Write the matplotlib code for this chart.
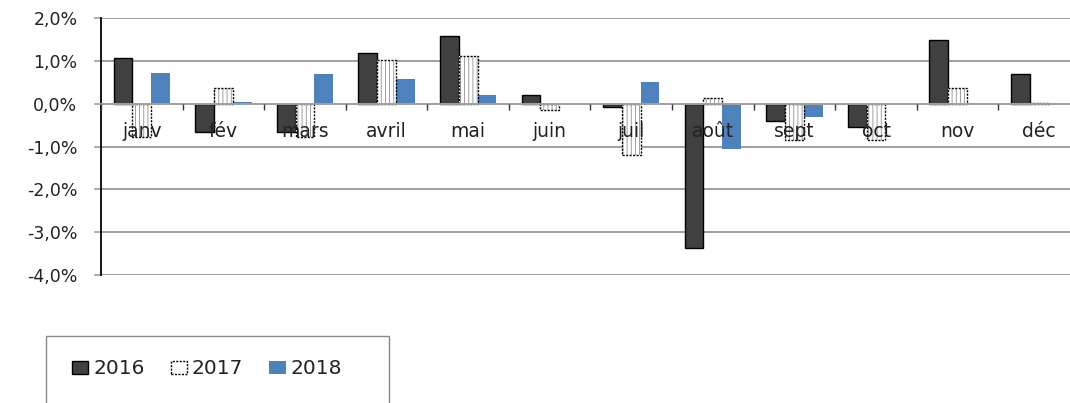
import numpy as np
import matplotlib
matplotlib.use('Agg')
import matplotlib.pyplot as plt
from matplotlib.ticker import FuncFormatter, FixedLocator
from matplotlib.patches import Rectangle

months = ['janv', 'fév', 'mars', 'avril', 'mai', 'juin', 'juil', 'août', 'sept', 'oct', 'nov', 'déc']
v2016 = [1.06, -0.67, -0.67, 1.19, 1.58, 0.21, -0.08, -3.36, -0.40, -0.54, 1.48, 0.69]
v2017 = [-0.78, 0.37, -0.78, 1.02, 1.12, -0.15, -1.21, 0.14, -0.84, -0.84, 0.37, 0.02]
v2018 = [0.72, 0.03, 0.69, 0.58, 0.21, 0.02, 0.50, -1.05, -0.32, 0.0, 0.0, 0.0]
years = ['2016', '2017', '2018']
yticks = [2, 1, 0, -1, -2, -3, -4]

plt.rcParams['font.family'] = ['DejaVu Sans']
plt.rcParams['hatch.linewidth'] = 0.6

fig = plt.figure(figsize=(10.70, 4.03), dpi=100)
ax = fig.add_axes([101/1070, 1-275/403, 979/1070, 257/403])

x = np.arange(len(months))
w = 0.23
grey_grid = '#a0a0a0'

# 2016
b16 = ax.bar(x - w, v2016, w, color='#404040', edgecolor='black', linewidth=1.0, zorder=2)
# 2017 : white, vertical hatching, dotted edge
ax.bar(x, v2017, w, color='white', edgecolor='#909090', hatch='||||', linewidth=0, zorder=2)
b17 = ax.bar(x, v2017, w, fill=False, edgecolor='black', linestyle=(0, (1.5, 1)), linewidth=1.0, zorder=2.1)
# 2018
b18 = ax.bar(x + w, v2018, w, color='#4f81bd', linewidth=0, zorder=2)

ax.set_xlim(-0.5, 11.5)
ax.set_ylim(-4, 2)

ax.yaxis.set_major_locator(FixedLocator(yticks))
ax.yaxis.set_major_formatter(FuncFormatter(lambda v, p: ('%.1f%%' % v).replace('.', ',')))
ax.yaxis.grid(True, color=grey_grid, linewidth=1.4)
ax.set_axisbelow(True)
ax.tick_params(axis='y', length=5, width=1.2, color=grey_grid, pad=12, labelsize=12.5, labelcolor='#222222')

ax.set_xticks(x)
ax.set_xticklabels(months)
ax.set_xticks(np.arange(len(months) + 1) - 0.5, minor=True)
ax.tick_params(axis='x', which='major', length=0, pad=13, labelsize=13.5, labelcolor='#222222')
ax.tick_params(axis='x', which='minor', length=4, width=1.0, color='#333333', direction='out')
ax.xaxis.set_zorder(5)

ax.spines['bottom'].set_position(('data', 0))
ax.spines['bottom'].set_color(grey_grid)
ax.spines['bottom'].set_linewidth(1.4)
ax.spines['top'].set_visible(False)
ax.spines['right'].set_visible(False)
ax.spines['left'].set_color('black')
ax.spines['left'].set_linewidth(1.3)

# legend box
fig.patches.append(Rectangle((46/1070, -0.05), 343/1070, 1-336/403 + 0.05,
                             transform=fig.transFigure, fill=False,
                             edgecolor='#888888', linewidth=1.0))
leg = fig.legend([b16, b17, b18], years, loc='center left',
                 bbox_to_anchor=(72/1070, 1-369/403), ncol=3, frameon=False,
                 fontsize=14.5, handlelength=0.8, handleheight=0.6,
                 handletextpad=0.25, columnspacing=1.3, borderpad=0, borderaxespad=0)
for t in leg.get_texts():
    t.set_color('#222222')

fig.savefig('out.png', dpi=100)
